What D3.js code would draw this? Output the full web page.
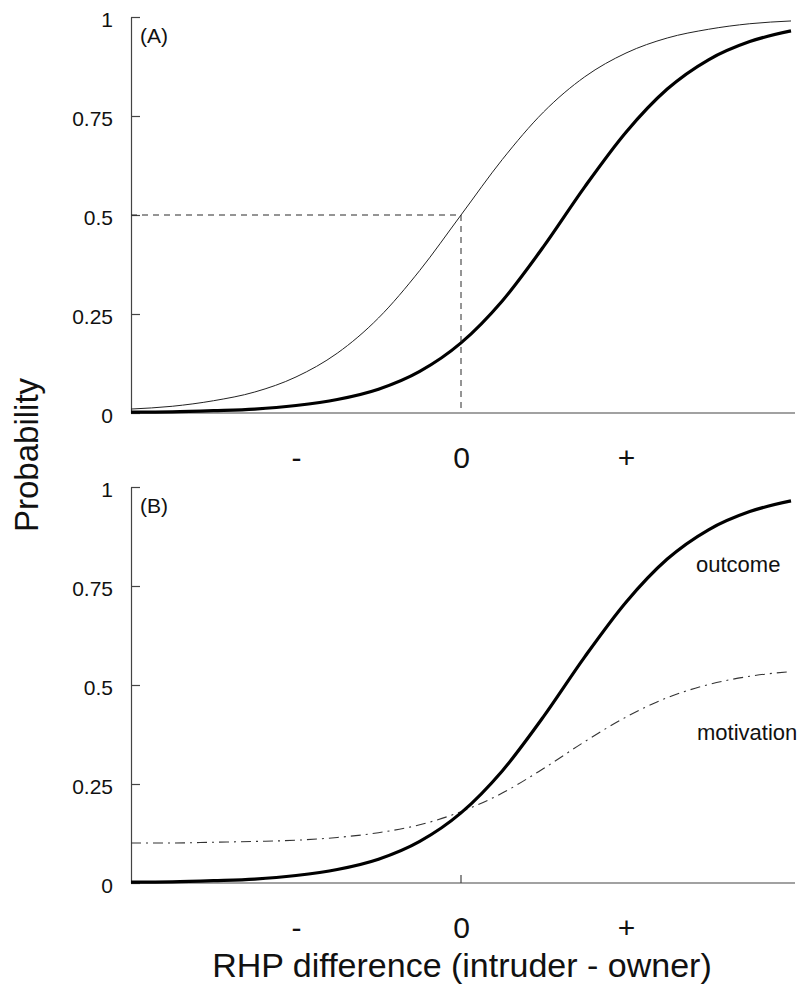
<!DOCTYPE html>
<html>
<head>
<meta charset="utf-8">
<script src="https://cdn.jsdelivr.net/npm/d3@7"></script>
<style>
  body { margin: 0; background: #fff; }
  svg { display: block; font-family: "Liberation Sans", Arial, Helvetica, sans-serif; }
</style>
</head>
<body>
<div id="chart"></div>
<script>
// RHP difference in arbitrary units: "-" = -1, "0" = 0, "+" = +1
const rhpDiff = [-2, -1.75, -1.5, -1.25, -1, -0.75, -0.5, -0.25, 0, 0.25, 0.5, 0.75, 1, 1.25, 1.5, 1.75, 2];

// Panel A, thin curve (symmetric contest, 0.5 at zero difference)
const symmetricWin = [0.010, 0.017, 0.031, 0.053, 0.091, 0.151, 0.240, 0.360, 0.500, 0.640, 0.760, 0.849, 0.909, 0.947, 0.969, 0.983, 0.990];

// Thick curve, shared by both panels (outcome)
const outcome = [0.002, 0.003, 0.006, 0.010, 0.019, 0.034, 0.060, 0.105, 0.177, 0.283, 0.420, 0.571, 0.709, 0.818, 0.892, 0.938, 0.965];

// Panel B, dash-dot curve (motivation)
const motivation = [0.101, 0.101, 0.103, 0.105, 0.108, 0.115, 0.127, 0.147, 0.180, 0.227, 0.289, 0.357, 0.419, 0.468, 0.501, 0.522, 0.534];

const yTicks = [0, 0.25, 0.5, 0.75, 1];
const yTickLabels = ["0", "0.25", "0.5", "0.75", "1"];
const xTicks = [-1, 0, 1];
const xTickLabels = ["-", "0", "+"];

// reference point marked with dashed lines in panel A
const halfPoint = { rhp: 0, p: 0.5 };

const width = 801, height = 987;
const axisColor = "#444";

const svg = d3.select("#chart").append("svg")
    .attr("width", width)
    .attr("height", height);

const x = d3.scaleLinear().domain([-2, 2]).range([131, 791]);

function drawPanel(yRange, panelLabel) {
    const y = d3.scaleLinear().domain([0, 1]).range(yRange);
    const g = svg.append("g");

    // y axis, ticks pointing inward
    const yAxis = g.append("g")
        .attr("transform", `translate(${x(-2)},0)`)
        .call(d3.axisLeft(y)
            .tickValues(yTicks)
            .tickFormat((d, i) => yTickLabels[i])
            .tickSizeInner(-9)
            .tickSizeOuter(0)
            .tickPadding(18));
    yAxis.select(".domain").attr("stroke", axisColor).attr("stroke-width", 1.2);
    yAxis.selectAll(".tick line").attr("stroke", axisColor).attr("stroke-width", 1.2);
    yAxis.selectAll(".tick text")
        .attr("dy", "0.43em")
        .attr("fill", "#111")
        .style("font-size", "21px")
        .style("font-family", "inherit");

    // x axis baseline
    g.append("line")
        .attr("x1", x(-2)).attr("x2", x(2) + 4)
        .attr("y1", y(0)).attr("y2", y(0))
        .attr("stroke", axisColor)
        .attr("stroke-width", 1.2);

    const xAxis = g.append("g")
        .attr("transform", `translate(0,${y(0)})`)
        .call(d3.axisBottom(x)
            .tickValues(xTicks)
            .tickFormat((d, i) => xTickLabels[i])
            .tickSize(0));
    xAxis.select(".domain").remove();
    xAxis.selectAll(".tick text")
        .attr("y", 55)
        .attr("dy", 0)
        .attr("fill", "#111")
        .style("font-size", "30px")
        .style("font-family", "inherit");

    g.append("text")
        .attr("x", x(-2) + 9)
        .attr("y", y(1) + 26)
        .attr("fill", "#111")
        .style("font-size", "21px")
        .text(panelLabel);

    return { g, y };
}

const lineOf = (y, values) => d3.line()
    .x((d, i) => x(rhpDiff[i]))
    .y(d => y(d))
    .curve(d3.curveMonotoneX)(values);

// Panel A
const panelA = drawPanel([413, 17], "(A)");

panelA.g.append("path")
    .attr("d", lineOf(panelA.y, symmetricWin))
    .attr("fill", "none")
    .attr("stroke", "#222")
    .attr("stroke-width", 1);

panelA.g.append("path")
    .attr("d", lineOf(panelA.y, outcome))
    .attr("fill", "none")
    .attr("stroke", "#000")
    .attr("stroke-width", 3.2);

panelA.g.append("line")
    .attr("x1", x(-2)).attr("x2", x(halfPoint.rhp))
    .attr("y1", panelA.y(halfPoint.p)).attr("y2", panelA.y(halfPoint.p))
    .attr("stroke", "#2a2a2a")
    .attr("stroke-width", 1)
    .attr("stroke-dasharray", "6,5");

panelA.g.append("line")
    .attr("x1", x(halfPoint.rhp)).attr("x2", x(halfPoint.rhp))
    .attr("y1", panelA.y(halfPoint.p)).attr("y2", panelA.y(0))
    .attr("stroke", "#2a2a2a")
    .attr("stroke-width", 1)
    .attr("stroke-dasharray", "6,5");

// Panel B
const panelB = drawPanel([883, 487], "(B)");

// small tick at zero difference
panelB.g.append("line")
    .attr("x1", x(0)).attr("x2", x(0))
    .attr("y1", panelB.y(0)).attr("y2", panelB.y(0) - 8)
    .attr("stroke", axisColor)
    .attr("stroke-width", 1.2);

panelB.g.append("path")
    .attr("d", lineOf(panelB.y, motivation))
    .attr("fill", "none")
    .attr("stroke", "#333")
    .attr("stroke-width", 1.1)
    .attr("stroke-dasharray", "10,5,2,5");

panelB.g.append("path")
    .attr("d", lineOf(panelB.y, outcome))
    .attr("fill", "none")
    .attr("stroke", "#000")
    .attr("stroke-width", 3.2);

panelB.g.append("text")
    .attr("x", 696).attr("y", 572)
    .attr("fill", "#111")
    .style("font-size", "22px")
    .text("outcome");

panelB.g.append("text")
    .attr("x", 697).attr("y", 740)
    .attr("fill", "#111")
    .style("font-size", "22px")
    .text("motivation");

// shared axis titles
svg.append("text")
    .attr("transform", "translate(38,455) rotate(-90)")
    .attr("text-anchor", "middle")
    .attr("fill", "#111")
    .style("font-size", "33px")
    .text("Probability");

svg.append("text")
    .attr("x", 462).attr("y", 977)
    .attr("text-anchor", "middle")
    .attr("fill", "#111")
    .style("font-size", "34px")
    .text("RHP difference (intruder - owner)");
</script>
</body>
</html>
